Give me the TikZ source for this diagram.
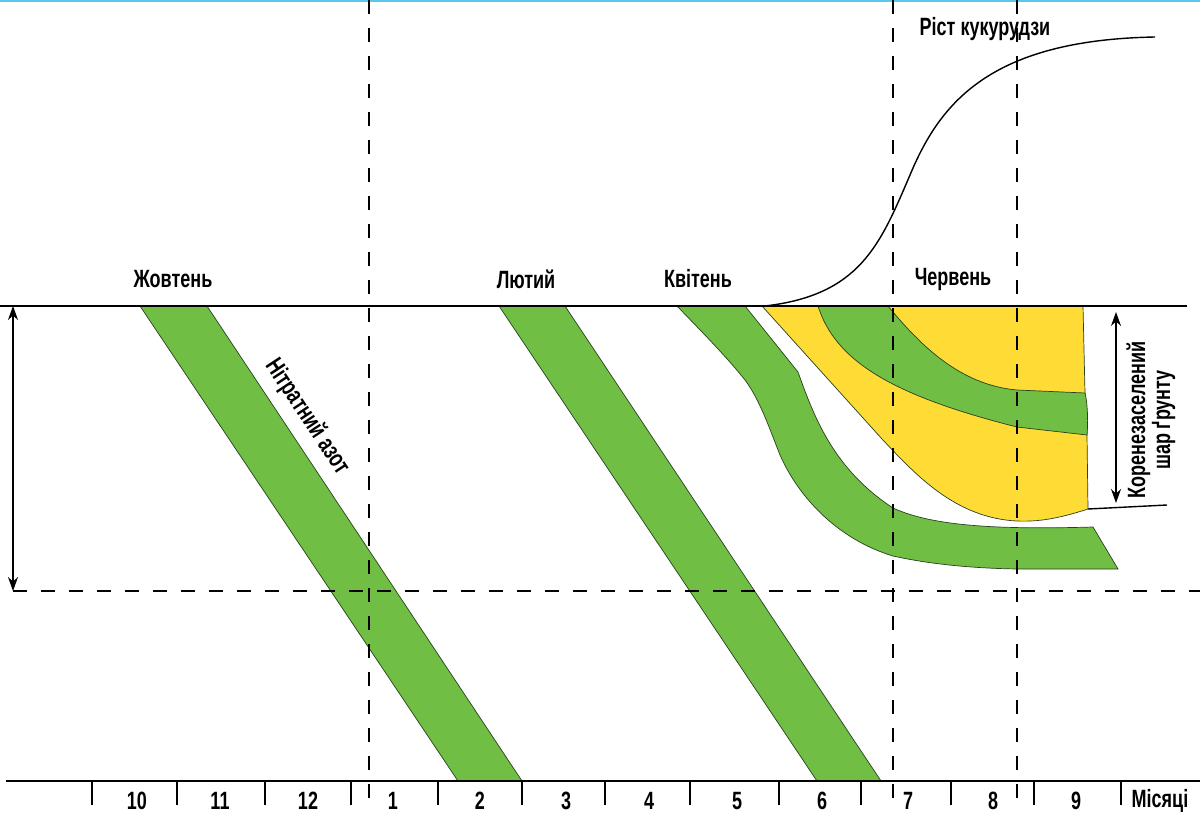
\documentclass[tikz,border=0pt]{standalone}
\usepackage{fontspec}
\setmainfont{Liberation Sans}[FakeStretch=0.72]
\usetikzlibrary{arrows.meta}
\definecolor{bandgreen}{RGB}{112,190,68}
\definecolor{rootyellow}{RGB}{255,219,54}
\definecolor{edgegreen}{RGB}{40,65,30}
\definecolor{topcyan}{RGB}{90,200,235}
\tikzset{
  band/.style={fill=bandgreen, draw=edgegreen, line width=0.7pt},
  yel/.style={fill=rootyellow, draw=edgegreen, line width=0.7pt},
  guide/.style={dash pattern=on 14pt off 14pt, line width=1.4pt},
  lbl/.style={font=\fontsize{25}{25}\selectfont\bfseries, inner sep=0pt},
  axisline/.style={line width=1.6pt},
  tickline/.style={line width=1.4pt},
  dimarrow/.style={line width=1.5pt, {Stealth[length=14pt,width=10pt]}-{Stealth[length=14pt,width=10pt]}},
}
\begin{document}
\begin{tikzpicture}[x=1pt,y=-1pt]
\useasboundingbox (0,0) rectangle (1200,814);
\fill[white] (0,0) rectangle (1200,814);
\fill[topcyan] (0,0) rectangle (1200,2);

% green bands
\path[band] (140,306) -- (207,306) -- (522,781) -- (458,781) -- cycle;
\path[band] (499,306) -- (565,306) -- (881,781) -- (817,781) -- cycle;
\path[band] (745,306) -- (798,372) .. controls (815,420) and (835,470) .. (893,508)
  .. controls (930,525) and (990,530) .. (1093,527) -- (1118,569) -- (1017,569)
  .. controls (960,568) and (920,562) .. (893,556)
  .. controls (840,540) and (800,500) .. (780,455)
  .. controls (770,430) and (760,400) .. (745,380)
  .. controls (725,355) and (700,330) .. (677,306) -- cycle;

% yellow root zone
\path[yel] (762,306) -- (1083,306) -- (1085,393) -- (1087,435) -- (1088,509)
  .. controls (1060,518) and (1040,522) .. (1017,521)
  .. controls (955,518) and (915,474) .. (882,439) -- cycle;
\path[band] (818,306) -- (888,306) .. controls (920,345) and (960,385) .. (1017,390)
  -- (1085,393) .. controls (1088,405) and (1088,425) .. (1087,435)
  -- (1017,427) .. controls (890,395) and (835,360) .. (818,306) -- cycle;

% corn growth curve
\draw[line width=1.4pt] (765,306) .. controls (860,295) and (880,245) .. (910,175)
  .. controls (940,103) and (990,40) .. (1155,37);

% surface and axis lines
\coordinate (sl) at (0,306); \coordinate (sr) at (1187,306);
\draw[axisline] (sl) -- (sr);
\coordinate (al) at (6,781); \coordinate (ar) at (1200,781);
\draw[axisline] (al) -- (ar);
\foreach \x in {92,177,265,351,438,522,605,690,779,861,951,1034,1121}
  \draw[tickline] (\x,781) -- (\x,805);

% dashed guides
\coordinate (g1t) at (369,0); \coordinate (g1b) at (369,805);
\coordinate (g2t) at (893,0); \coordinate (g2b) at (893,805);
\coordinate (g3t) at (1017,0); \coordinate (g3b) at (1017,805);
\coordinate (hl) at (13,591); \coordinate (hr) at (1200,591);
\draw[guide] (g1t) -- (g1b);
\draw[guide] (g2t) -- (g2b);
\draw[guide] (g3t) -- (g3b);
\draw[guide] (hl) -- (hr);

% dimension arrows
\coordinate (la) at (13,306); \coordinate (lb) at (13,591);
\draw[dimarrow] (la) -- (lb);
\coordinate (ra) at (1116,312); \coordinate (rb) at (1116,503);
\draw[dimarrow] (ra) -- (rb);
\coordinate (rl1) at (1088,509); \coordinate (rl2) at (1167,505);
\draw[line width=1.4pt] (rl1) -- (rl2);

% labels
\node[lbl] (oct) at (173,279) {Жовтень};
\node[lbl] (feb) at (526,279) {Лютий};
\node[lbl] (apr) at (698,279) {Квітень};
\node[lbl] (jun) at (953,279) {Червень};
\node[lbl] (corn) at (985,29) {Ріст кукурудзи};
\node[lbl, rotate=-56.5] (nit) at (307,417) {Нітратний азот};
\node[lbl, rotate=90, align=center] (root) at (1151,420) {Коренезаселений\\шар ґрунту};

\foreach \x/\t/\n in {137/10/m10,220/11/m11,308/12/m12,393/1/m1,480/2/m2,566/3/m3,649/4/m4,737/5/m5,822/6/m6,908/7/m7,993/8/m8,1076/9/m9}
  \node[lbl] (\n) at (\x,801) {\t};
\node[lbl] (mon) at (1160,801) {Місяці};
\end{tikzpicture}
\end{document}
